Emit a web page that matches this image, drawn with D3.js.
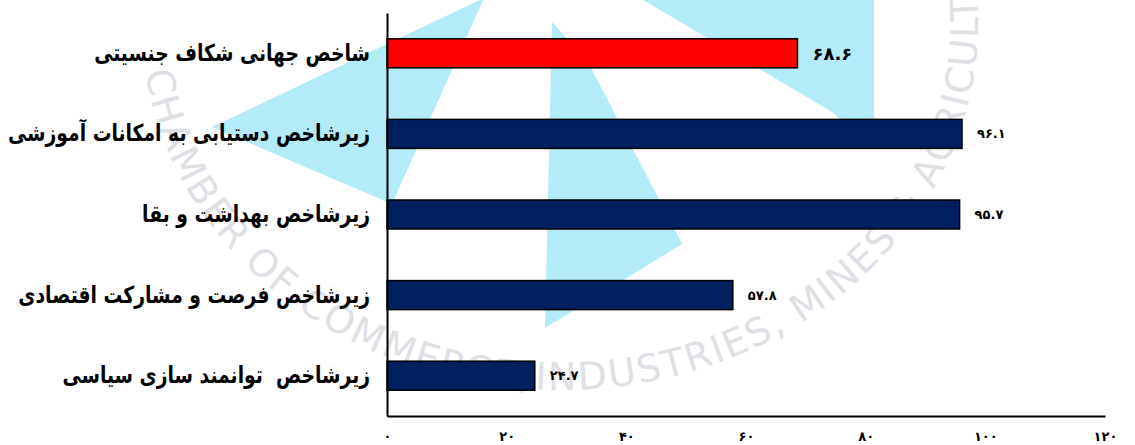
<!DOCTYPE html>
<html lang="fa">

<head>
    <meta charset="UTF-8">
    <title>gender gap index</title>
    <script src="https://cdn.jsdelivr.net/npm/d3@7"></script>
    <style>
        body {
            margin: 0;
            background: #ffffff;
        }

        .cat text,
        .val,
        .xax text {
            font-family: "DejaVu Sans", sans-serif;
            font-weight: bold;
            fill: #000;
        }

        .cat text {
            white-space: pre;
        }

        .wm-text {
            font-family: "DejaVu Sans", sans-serif;
            font-size: 38px;
            letter-spacing: 2px;
            fill: #dde0e4;
        }
    </style>
</head>

<body>
    <svg id="chart" width="1135" height="445"></svg>

    <script>
        // data
        let categories = [
            "شاخص جهانی شکاف جنسیتی",
            "زیرشاخص دستیابی به امکانات آموزشی",
            "زیرشاخص بهداشت و بقا",
            "زیرشاخص فرصت و مشارکت اقتصادی",
            "زیرشاخص  توانمند سازی سیاسی"
        ]
        let values = [68.6, 96.1, 95.7, 57.8, 24.7]
        let x_ticks = [0, 20, 40, 60, 80, 100, 120]
        let highlight = "شاخص جهانی شکاف جنسیتی"
        let title = "وضعیت ایران در شاخص جهانی شکاف جنسیتی"

        // persian digits
        function fa(s) {
            return String(s).replace(/\d/g, d => "۰۱۲۳۴۵۶۷۸۹"[+d])
        }

        let svg = d3.select("#chart")
        let W = 1135, H = 445

        svg.append("rect").attr("width", W).attr("height", H).attr("fill", "#fff")

        // ---- faint logo watermark in the background
        let wm = svg.append("g").attr("class", "watermark")
        let blue = "#b3ebf9"
        let shapes = [
            [[484, -2], [212, 127], [392, 204]],
            [[552, 22], [588, 62], [682, 244], [545, 328]],
            [[640, -2], [874, -2], [874, 150], [832, 112]]
        ]
        wm.selectAll("polygon").data(shapes).join("polygon")
            .attr("points", d => d.map(p => p.join(",")).join(" "))
            .attr("fill", blue)

        // lettering round the logo
        let cx = 560, cy = 24, rx = 418, ry = 366
        function pt(a) {
            let r = a * Math.PI / 180
            return [cx + rx * Math.cos(r), cy + ry * Math.sin(r)]
        }
        function arc(a0, a1) {
            let p0 = pt(a0), p1 = pt(a1)
            let large = Math.abs(a0 - a1) > 180 ? 1 : 0
            return `M${p0[0]},${p0[1]} A${rx},${ry} 0 ${large} 0 ${p1[0]},${p1[1]}`
        }
        let defs = svg.append("defs")
        defs.append("path").attr("id", "arcL").attr("d", arc(220, 94))
        defs.append("path").attr("id", "arcR").attr("d", arc(94, -45))
        wm.append("text").attr("class", "wm-text")
            .append("textPath").attr("href", "#arcL")
            .attr("startOffset", "100%").attr("text-anchor", "end")
            .text("CHAMBER OF COMMERCE,")
        wm.append("text").attr("class", "wm-text")
            .append("textPath").attr("href", "#arcR")
            .attr("startOffset", "4")
            .text("INDUSTRIES, MINES & AGRICULTURE")

        // ---- title (mostly cut off at the top edge)
        svg.append("text")
            .attr("x", 545).attr("y", -4)
            .attr("text-anchor", "middle")
            .style("font-family", "DejaVu Sans").style("font-weight", "bold")
            .style("font-size", "16px")
            .text(title)

        // ---- scales
        let x = d3.scaleLinear().domain([0, 120]).range([387, 1105])
        let y = d3.scaleBand().domain(categories).range([13, 416])
            .paddingInner(0.64).paddingOuter(0.32)

        // bars
        svg.append("g").selectAll("rect").data(values).join("rect")
            .attr("x", x(0))
            .attr("y", (d, i) => y(categories[i]))
            .attr("width", d => x(d) - x(0))
            .attr("height", y.bandwidth())
            .attr("fill", (d, i) => categories[i] === highlight ? "#ff0000" : "#002060")
            .attr("stroke", "#000")
            .attr("stroke-width", 1.5)

        // value labels
        svg.append("g").selectAll("text").data(values).join("text")
            .attr("class", "val")
            .attr("x", d => x(d) + 15)
            .attr("y", (d, i) => y(categories[i]) + y.bandwidth() / 2)
            .attr("dy", "0.35em")
            .style("font-size", (d, i) => categories[i] === highlight ? "18px" : "13px")
            .text(d => fa(d.toFixed(1)))

        // x axis
        let xAxis = svg.append("g")
            .attr("class", "xax")
            .attr("transform", "translate(0,416)")
            .call(d3.axisBottom(x).tickValues(x_ticks).tickSize(0).tickPadding(16)
                .tickFormat(d => fa(d)))
        xAxis.selectAll("text").style("font-size", "13px")
        xAxis.select(".domain").attr("stroke", "#000").attr("stroke-width", 2)

        // y axis with category names
        let yAxis = svg.append("g")
            .attr("class", "cat")
            .attr("transform", "translate(387,0)")
            .call(d3.axisLeft(y).tickSize(0).tickPadding(17))
        yAxis.select(".domain").attr("stroke", "#000").attr("stroke-width", 2)

        // names: fit the longest one into the space on the left,
        // then draw them a bit taller and squeeze back to that width
        let names = yAxis.selectAll("text").style("font-size", "16px")
        let widest = d3.max(names.nodes(), n => n.getComputedTextLength())
        let fs = 16 * 362 / widest
        names.style("font-size", fs.toFixed(2) + "px")
        let widths = names.nodes().map(n => n.getComputedTextLength())
        names.style("font-size", (fs * 1.25).toFixed(2) + "px")
            .attr("textLength", (d, i) => widths[i].toFixed(1))
            .attr("lengthAdjust", "spacingAndGlyphs")
    </script>

</body>

</html>
